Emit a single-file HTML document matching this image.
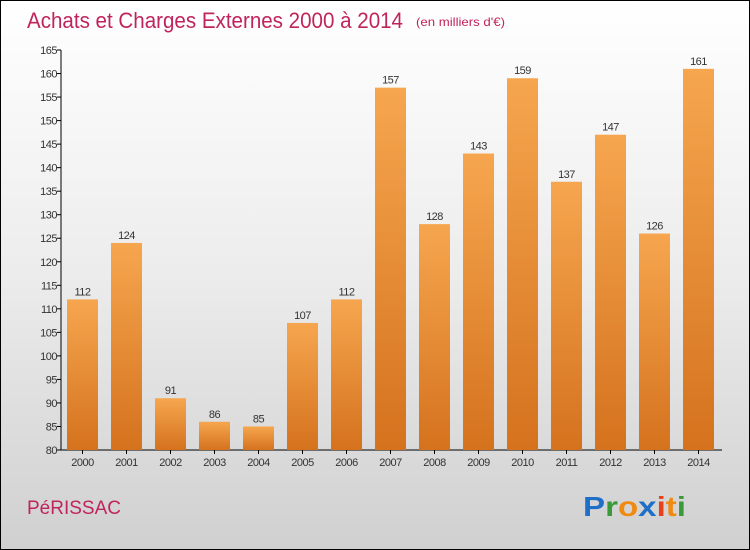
<!DOCTYPE html>
<html><head><meta charset="utf-8"><style>
body{margin:0}
#c{width:750px;height:550px;position:relative;box-sizing:border-box;border:1px solid #000;background:linear-gradient(#ffffff 0%,#ececec 50%,#d0d0d0 100%);font-family:"Liberation Sans",sans-serif;overflow:hidden}
</style></head><body>
<div id="c">
<svg width="750" height="550" style="position:absolute;left:-1px;top:-1px">
<defs><linearGradient id="bg" x1="0" y1="0" x2="0" y2="1"><stop offset="0" stop-color="#f6a64f"/><stop offset="1" stop-color="#d5721e"/></linearGradient></defs>
<text x="27" y="28" font-size="22" fill="#c0245c" textLength="376" lengthAdjust="spacingAndGlyphs">Achats et Charges Externes 2000 à 2014</text>
<text x="416" y="26" font-size="12" fill="#c0245c" textLength="89" lengthAdjust="spacingAndGlyphs">(en milliers d'€)</text>
<g id="ax"></g><g id="bars"></g>
<text x="27" y="514" font-size="19" fill="#c0245c">PéRISSAC</text>
<g font-size="28" font-weight="bold" font-family="Liberation Sans,sans-serif">
<text x="583" y="516" textLength="103" lengthAdjust="spacingAndGlyphs"><tspan fill="#1d6fc8">P</tspan><tspan fill="#3a9a3a">r</tspan><tspan fill="#f08a10">o</tspan><tspan fill="#1d6fc8">x</tspan><tspan fill="#e8401a">i</tspan><tspan fill="#f08a10">t</tspan><tspan fill="#3a9a3a">i</tspan></text></g>
</svg></div>
<script>
const categories=["2000","2001","2002","2003","2004","2005","2006","2007","2008","2009","2010","2011","2012","2013","2014"];
const values=[112,124,91,86,85,107,112,157,128,143,159,137,147,126,161];
const ticks=[80,85,90,95,100,105,110,115,120,125,130,135,140,145,150,155,160,165];
const NS="http://www.w3.org/2000/svg";
const y=v=>450-(v-80)*400/85;
const x=i=>67+i*44;
function mk(t,a,p){const e=document.createElementNS(NS,t);for(const k in a)e.setAttribute(k,a[k]);p.appendChild(e);return e;}
const ax=document.getElementById('ax'),bars=document.getElementById('bars');
const al=mk('line',{x1:61,y1:50,x2:61,y2:450,stroke:'#000'},ax);


const bl=mk('line',{x1:61,y1:450,x2:722,y2:450,stroke:'#000'},ax);


ticks.forEach(t=>{
 mk('line',{x1:57,x2:61,y1:y(t),y2:y(t),stroke:'#000'},ax);
 const tx=mk('text',{x:57,y:y(t)+4,'text-anchor':'end','font-size':11,fill:'#333','letter-spacing':'-0.5'},ax);
 tx.textContent=t;
 
 
});
categories.forEach((c,i)=>{
 const r=mk('rect',{x:x(i),y:y(values[i]),width:31,height:450-y(values[i]),fill:'url(#bg)'},bars);
 
 
 const v=mk('text',{x:x(i)+15.5,y:y(values[i])-4,'text-anchor':'middle','font-size':11,fill:'#333','letter-spacing':'-0.5'},bars);
 v.textContent=values[i];
 
 
 mk('line',{x1:x(i)+15.5,x2:x(i)+15.5,y1:450,y2:454,stroke:'#000'},ax);
 const l=mk('text',{x:x(i)+15.5,y:466,'text-anchor':'middle','font-size':11,fill:'#333','letter-spacing':'-0.5'},ax);
 l.textContent=c;
 
 
});
</script>
</body></html>
